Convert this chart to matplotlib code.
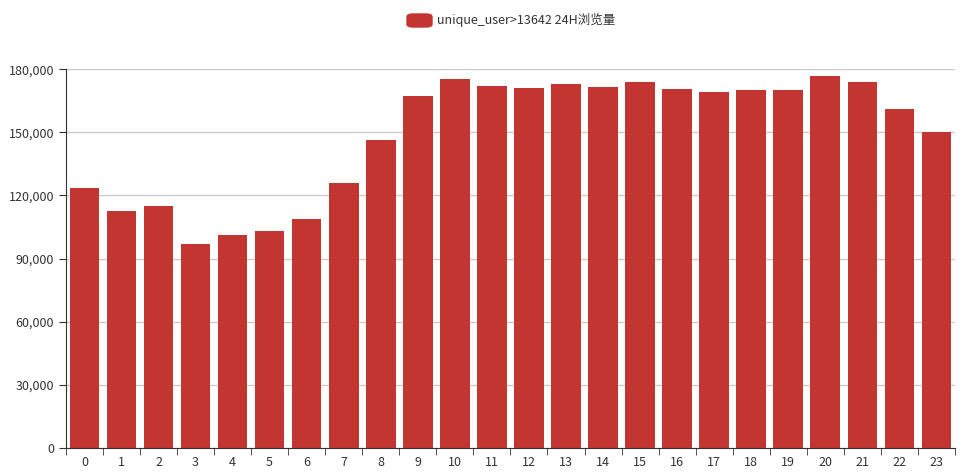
import matplotlib.pyplot as plt
from matplotlib.patches import FancyBboxPatch
from matplotlib.ticker import FuncFormatter

plt.rcParams['font.family'] = ['Noto Sans CJK SC', 'DejaVu Sans']

hours = [str(h) for h in range(24)]
views = [123400, 112600, 114900, 96900, 101200, 103100, 108800, 125900,
         146300, 167200, 175300, 171900, 171000, 172900, 171500, 173800,
         170500, 169100, 170000, 170000, 176700, 173800, 161000, 150000]
series_name = "unique_user>13642 24H浏览量"
bar_color = "#c23531"

fig = plt.figure(figsize=(9.69, 4.74), dpi=100)
ax = fig.add_axes([0.068, 0.055, 0.9175, 0.799])

ax.bar(range(len(hours)), views, width=0.8, color=bar_color, zorder=2)
ax.set_xlim(-0.5, len(hours) - 0.5)
ax.set_ylim(0, 180000)
ax.set_yticks(range(0, 180001, 30000))
ax.yaxis.set_major_formatter(FuncFormatter(lambda v, p: f"{int(v):,}"))
ax.set_xticks(range(len(hours)))
ax.set_xticklabels(hours)
ax.set_xticks([i - 0.5 for i in range(len(hours) + 1)], minor=True)
ax.tick_params(axis='x', which='major', length=0, pad=6)
ax.tick_params(axis='x', which='minor', length=5, color='#333333')
ax.tick_params(axis='y', length=5, color='#333333')
ax.tick_params(labelsize=9, labelcolor='#333333')
ax.grid(axis='y', color='#cccccc', linewidth=1, zorder=0)
for s in ['top', 'right']:
    ax.spines[s].set_visible(False)
for s in ['left', 'bottom']:
    ax.spines[s].set_color('#333333')

# legend like echarts
fig.patches.append(FancyBboxPatch((407 / 969, 1 - 27 / 474), 25 / 969, 13 / 474,
                                  boxstyle="round,pad=0,rounding_size=0.006",
                                  transform=fig.transFigure, color=bar_color))
fig.text(437 / 969, 1 - 20 / 474, series_name, fontsize=9, color='#333333', va='center')

fig.savefig("out.png", dpi=100)
